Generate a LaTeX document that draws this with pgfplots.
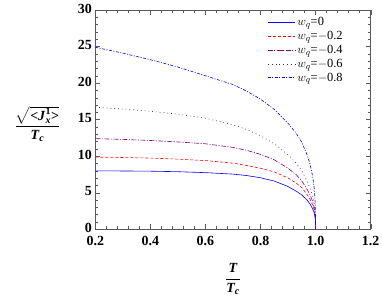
\documentclass[border=0pt]{standalone}
\usepackage{fontspec}
\setmainfont{Liberation Serif}
\usepackage{amsmath}
\usepackage{pgfplots}
\usepackage{pgfplotstable}
\pgfplotsset{compat=1.18}
\definecolor{mpurple}{rgb}{0.5,0,0.5}
\pgfplotstableread{
T      w0    w2    w4    w6    w8
0.2    8.00  9.87  12.40 16.70 24.90
0.3    7.98  9.82  12.30 16.45 24.10
0.4    7.95  9.74  12.15 16.15 23.20
0.5    7.88  9.60  11.95 15.75 22.20
0.6    7.75  9.40  11.70 15.20 21.00
0.7    7.55  9.05  11.20 14.30 19.80
0.75   7.35  8.72  10.80 13.65 18.90
0.8    7.05  8.35  10.25 12.80 17.80
0.85   6.60  7.85  9.50  11.70 16.40
0.9    5.85  7.02  8.35  10.20 14.50
0.93   5.20  6.30  7.45  9.00  13.10
0.95   4.70  5.70  6.60  8.00  11.90
0.97   3.95  4.70  5.40  6.50  10.10
0.98   3.45  4.10  4.70  5.60  8.90
0.99   2.75  3.25  3.75  4.45  7.10
0.995  2.20  2.60  2.95  3.50  5.60
0.999  1.40  1.50  1.75  2.10  3.30
1.0    0.00  0.00  0.00  0.00  0.00
}\data
\begin{document}
\begin{tikzpicture}
\useasboundingbox (0,0) rectangle (382bp,306bp);
\begin{axis}[
  at={(95.3bp,76.7bp)}, anchor=south west,
  scale only axis, width=275.4bp, height=219.3bp,
  xmin=0.2, xmax=1.2, ymin=0, ymax=30,
  xtick={0.2,0.4,0.6,0.8,1.0,1.2},
  ytick={0,5,10,15,20,25,30},
  minor x tick num=4, minor y tick num=4,
  tick align=inside,
  major tick length=5bp, minor tick length=3bp,
  axis line style={gray!70!black, line width=0.5pt},
  every tick/.style={gray!70!black, line width=0.4pt},
  /pgf/number format/assume math mode=true,
  xticklabel style={font=\fontsize{14}{14}\selectfont\bfseries, yshift=-3.5bp, /pgf/number format/.cd, fixed, fixed zerofill, precision=1},
  yticklabel style={font=\fontsize{14}{14}\selectfont\bfseries, yshift=1.5bp},
  xlabel={$\dfrac{\mbox{\bfseries\itshape T}}{\mbox{\bfseries\itshape T$_{\mbox{\fontsize{10}{10}\selectfont c}}$}}$},
  ylabel={$\dfrac{\sqrt{\mbox{\bfseries <\textit{J}$_{\mbox{\fontsize{10}{10}\selectfont\bfseries\itshape x}}^{\mbox{\fontsize{10}{10}\selectfont\bfseries 1}}$>}}}{\mbox{\bfseries\itshape T$_{\mbox{\fontsize{10}{10}\selectfont c}}$}}$},
  every axis x label/.style={at={(axis description cs:0.5,-0.228)}, anchor=center, font=\fontsize{14}{14}\selectfont},
  every axis y label/.style={at={(axis description cs:-0.21,0.48)}, anchor=center, rotate=0, font=\fontsize{14}{14}\selectfont},
  legend style={draw=white, fill=white, at={(axis description cs:0.625,0.975)}, anchor=north west, font=\fontsize{12.5}{12.5}\selectfont, row sep=0bp, inner sep=0pt},
  legend cell align=left,
  legend image post style={xscale=1.6},
]
\addplot[draw=blue, line width=0.6pt] table[x=T, y=w0] {\data};
\addlegendentry{$w_q$=0}
\addplot[draw=red, line width=0.6pt, dash pattern=on 3bp off 2bp] table[x=T, y=w2] {\data};
\addlegendentry{$w_q$=$-$0.2}
\addplot[draw=mpurple, line width=0.6pt, dash pattern=on 5bp off 1.5bp on 1bp off 1.5bp] table[x=T, y=w4] {\data};
\addlegendentry{$w_q$=$-$0.4}
\addplot[draw=black!80, line width=0.6pt, dash pattern=on 0.8bp off 3bp] table[x=T, y=w6] {\data};
\addlegendentry{$w_q$=$-$0.6}
\addplot[draw=blue, line width=0.6pt, dash pattern=on 3bp off 1.5bp on 1bp off 1.5bp] table[x=T, y=w8] {\data};
\addlegendentry{$w_q$=$-$0.8}
\end{axis}
\end{tikzpicture}
\end{document}
